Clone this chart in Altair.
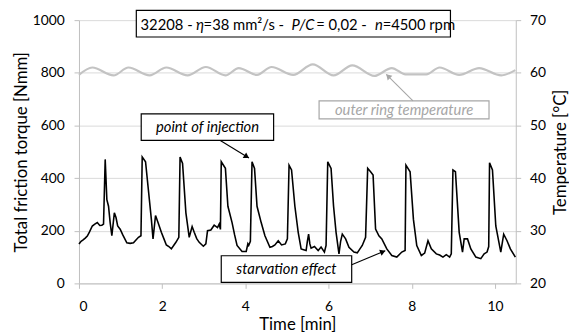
import altair as alt
import pandas as pd

# ---------------- data ----------------
time_min = [0.00, 0.05, 0.10, 0.15, 0.20, 0.25, 0.32, 0.38, 0.44, 0.50, 0.55, 0.59, 0.63, 0.67, 0.71,
            0.75, 0.79, 0.85, 0.89, 0.93, 0.99, 1.05, 1.15, 1.23, 1.31, 1.37, 1.43, 1.49, 1.52, 1.60,
            1.66, 1.74, 1.78, 1.84, 1.90, 1.98, 2.04, 2.10, 2.16, 2.22, 2.28, 2.33, 2.40, 2.43, 2.49,
            2.57, 2.65, 2.72, 2.77, 2.83, 2.89, 2.99, 3.05, 3.09, 3.17, 3.25, 3.33, 3.37, 3.40, 3.42,
            3.52, 3.58, 3.68, 3.74, 3.80, 3.92, 4.02, 4.06, 4.08, 4.12, 4.16, 4.22, 4.28, 4.38, 4.47,
            4.59, 4.65, 4.71, 4.79, 4.87, 4.96, 5.01, 5.05, 5.11, 5.19, 5.27, 5.34, 5.40, 5.46, 5.49,
            5.52, 5.55, 5.58, 5.66, 5.75, 5.82, 5.90, 5.94, 5.98, 6.06, 6.12, 6.18, 6.25, 6.29, 6.33,
            6.41, 6.49, 6.61, 6.69, 6.75, 6.81, 6.89, 6.94, 7.01, 7.07, 7.13, 7.21, 7.28, 7.40, 7.52,
            7.64, 7.76, 7.84, 7.86, 7.96, 8.04, 8.12, 8.23, 8.31, 8.39, 8.47, 8.59, 8.67, 8.75, 8.83,
            8.91, 8.95, 8.99, 9.05, 9.14, 9.22, 9.26, 9.34, 9.42, 9.54, 9.66, 9.74, 9.81, 9.85, 9.87,
            9.94, 10.02, 10.14, 10.21, 10.29, 10.37, 10.49]
torque_nmm = [150, 160, 165, 172, 180, 195, 218, 225, 231, 220, 221, 225, 471, 318, 293,
              230, 181, 268, 250, 218, 206, 185, 154, 152, 154, 165, 175, 181, 480, 462,
              368, 243, 169, 258, 231, 194, 170, 146, 140, 131, 145, 156, 175, 480, 456,
              268, 175, 216, 194, 170, 156, 141, 150, 200, 203, 221, 212, 225, 205, 462,
              437, 293, 231, 185, 144, 121, 121, 150, 144, 160, 462, 437, 293, 231, 181,
              137, 140, 146, 162, 146, 150, 169, 449, 431, 293, 194, 131, 128, 125, 160,
              187, 150, 134, 140, 125, 138, 119, 144, 462, 437, 293, 194, 112, 160, 187,
              169, 137, 119, 116, 130, 144, 175, 437, 424, 412, 206, 181, 169, 131, 106,
              100, 119, 125, 449, 424, 243, 144, 106, 115, 162, 131, 112, 108, 100, 109,
              100, 112, 431, 424, 194, 119, 169, 169, 131, 100, 94, 112, 119, 140, 458,
              431, 218, 119, 187, 162, 131, 100]

temp_time = [0.00, 0.32, 0.83, 1.19, 1.70, 2.10, 2.61, 3.05, 3.52, 3.84, 4.28, 4.63, 5.15,
             5.62, 6.12, 6.57, 7.10, 7.52, 7.85, 8.35, 8.67, 9.14, 9.62, 10.15, 10.49]
temp_c = [59.6, 61.0, 59.5, 61.0, 59.5, 61.0, 59.5, 61.1, 59.5, 60.9, 59.6, 61.1, 59.6,
          61.6, 59.5, 61.4, 59.4, 60.9, 59.7, 59.7, 61.0, 59.6, 60.9, 59.5, 60.5]

x_ticks = [0, 2, 4, 6, 8, 10]
torque_ticks = [0, 200, 400, 600, 800, 1000]
temp_ticks = [20, 30, 40, 50, 60, 70]

# title segments (text, italic?, start time, torque level)
title_text = ["32208 -", "η", "=38 mm²/s -", "P/C", "= 0,02 -", "n", "=4500 rpm"]
title_italic = [False, True, False, True, False, True, False]
title_t = [1.48, 2.81, 2.995, 5.107, 5.701, 7.114, 7.30]
title_y = [981] * 7

# annotation boxes
box_name = ["title", "inj", "temp", "starv"]
box_t1 = [1.378, 1.496, 5.772, 3.420]
box_t2 = [8.93, 4.679, 9.857, 6.556]
box_y1 = [936, 543, 625, 4]
box_y2 = [1037, 644, 693, 105]
box_color = ["black", "black", "#a6a6a6", "black"]

label_text = ["point of injection", "outer ring temperature", "starvation effect"]
label_t = [3.09, 7.815, 4.988]
label_y = [594, 659, 54]
label_color = ["black", "#a6a6a6", "black"]

arrow_t1 = [3.397, 8.029, 6.556]
arrow_y1 = [543, 693, 71]
arrow_t2 = [4.086, 7.387, 7.363]
arrow_y2 = [476, 794, 124]
arrow_angle = [122, 315, 68]
arrow_color = ["black", "#a6a6a6", "black"]

# ---------------- chart ----------------
FONT = "Lato"
torque_df = pd.DataFrame({"t": time_min, "torque": torque_nmm})
temp_df = pd.DataFrame({"t": temp_time, "temp": temp_c})
title_df = pd.DataFrame({"txt": title_text, "it": title_italic, "t": title_t, "y": title_y})
box_df = pd.DataFrame({"name": box_name, "t1": box_t1, "t2": box_t2, "y1": box_y1,
                       "y2": box_y2, "c": box_color})
label_df = pd.DataFrame({"txt": label_text, "t": label_t, "y": label_y, "c": label_color})
arrow_df = pd.DataFrame({"t1": arrow_t1, "y1": arrow_y1, "t2": arrow_t2, "y2": arrow_y2,
                         "ang": arrow_angle, "c": arrow_color})

xscale = alt.Scale(domain=[0, 10.5], nice=False, zero=False)
yscale = alt.Scale(domain=[0, 1000], nice=False)
tscale = alt.Scale(domain=[20, 70], nice=False, zero=False)

axis_common = dict(labelFont=FONT, titleFont=FONT, labelFontSize=14, titleFontSize=17,
                   labelColor="black", titleColor="black", titleFontWeight="normal",
                   domainColor="#bfbfbf", tickColor="#bfbfbf", tickSize=5, format="d")

x_axis = alt.Axis(values=x_ticks, title="Time [min]", grid=False, labelPadding=12,
                  titlePadding=3, **axis_common)
y_axis = alt.Axis(values=torque_ticks, title="Total friction torque [Nmm]", grid=True,
                  gridColor="#d9d9d9", labelPadding=10, titlePadding=2, **axis_common)
t_axis = alt.Axis(values=temp_ticks, title="Temperature [°C]", orient="right", grid=False,
                  labelPadding=9, titlePadding=7, titleAngle=270, titleBaseline="top",
                  **axis_common)


def X(field):
    return alt.X(field, scale=xscale, axis=x_axis)


def Y(field):
    return alt.Y(field, scale=yscale, axis=y_axis)


temp_line = alt.Chart(temp_df).mark_line(color="#c3c3c3", strokeWidth=2.2,
                                          interpolate="monotone").encode(
    x=X("t:Q"),
    y=alt.Y("temp:Q", scale=tscale, axis=t_axis),
)

torque_line = alt.Chart(torque_df).mark_line(color="black", strokeWidth=1.6).encode(
    x=X("t:Q"), y=Y("torque:Q"),
)

boxes = alt.Chart(box_df).mark_rect(fill="white", strokeWidth=1.2).encode(
    x=X("t1:Q"), x2="t2:Q", y=Y("y1:Q"), y2="y2:Q",
    stroke=alt.Stroke("c:N", scale=None),
)

title_normal = alt.Chart(title_df).transform_filter("!datum.it").mark_text(
    font=FONT, fontSize=15, align="left", baseline="middle", color="black").encode(
    x=X("t:Q"), y=Y("y:Q"), text="txt:N")
title_ital = alt.Chart(title_df).transform_filter("datum.it").mark_text(
    font=FONT, fontSize=15, align="left", baseline="middle", color="black",
    fontStyle="italic").encode(
    x=X("t:Q"), y=Y("y:Q"), text="txt:N")

labels = alt.Chart(label_df).mark_text(font=FONT, fontSize=15, fontStyle="italic",
                                        align="center", baseline="middle").encode(
    x=X("t:Q"), y=Y("y:Q"), text="txt:N",
    color=alt.Color("c:N", scale=None),
)

arrow_lines = alt.Chart(arrow_df).mark_rule(strokeWidth=1.1).encode(
    x=X("t1:Q"), x2="t2:Q", y=Y("y1:Q"), y2="y2:Q",
    color=alt.Color("c:N", scale=None),
)
arrow_heads = alt.Chart(arrow_df).mark_point(shape="M-1,1.6L0,0L1,1.6Z", filled=True,
                                              size=45, opacity=1).encode(
    x=X("t2:Q"), y=Y("y2:Q"),
    angle=alt.Angle("ang:Q", scale=None),
    color=alt.Color("c:N", scale=None),
)

torque_group = alt.layer(torque_line, boxes, title_normal, title_ital, labels,
                         arrow_lines, arrow_heads)

chart = alt.layer(temp_line, torque_group).resolve_scale(y="independent").properties(
    width=443, height=267,
    autosize=alt.AutoSizeParams(type="none"),
    padding={"left": 72, "top": 10, "right": 54, "bottom": 48},
).configure_view(stroke=None)

chart.save("out.html", embed_options={"renderer": "svg", "actions": False})
